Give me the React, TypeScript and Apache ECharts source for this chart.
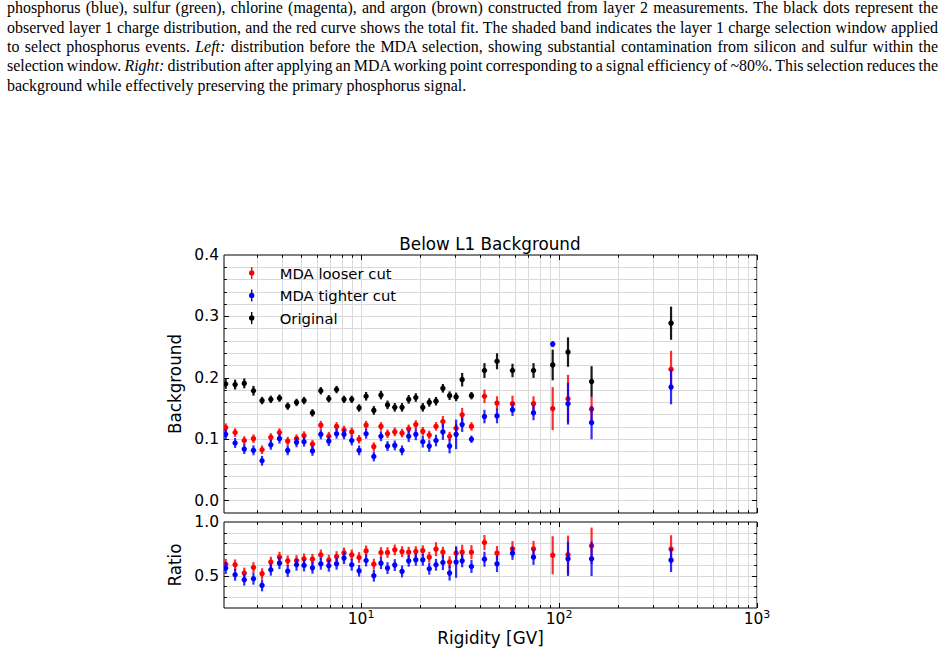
import React, { useEffect, useRef } from "react";
import * as echarts from "echarts";

// ---------------- data ----------------
const rigidity = [2.07, 2.31, 2.57, 2.86, 3.16, 3.5, 3.87, 4.26, 4.72, 5.15, 5.68, 6.26, 6.87, 7.52, 8.2, 8.97, 9.77, 10.6, 11.6, 12.6, 13.6, 14.8, 16.1, 17.4, 18.9, 20.5, 22.1, 23.9, 25.9, 28.0, 30.2, 32.4, 36.1, 42.0, 48.6, 58.2, 74.3, 92.9, 111, 146, 368];

const originalBg = [0.190, 0.189, 0.191, 0.179, 0.163, 0.165, 0.167, 0.154, 0.160, 0.163, 0.143, 0.179, 0.166, 0.181, 0.165, 0.165, 0.151, 0.170, 0.147, 0.172, 0.156, 0.152, 0.152, 0.165, 0.168, 0.152, 0.160, 0.162, 0.183, 0.171, 0.169, 0.197, 0.171, 0.212, 0.227, 0.212, 0.212, 0.221, 0.242, 0.194, 0.289];
const originalErr = [0.008, 0.008, 0.008, 0.008, 0.006, 0.006, 0.006, 0.006, 0.006, 0.006, 0.006, 0.006, 0.006, 0.006, 0.006, 0.006, 0.006, 0.007, 0.007, 0.007, 0.007, 0.007, 0.007, 0.007, 0.007, 0.007, 0.007, 0.007, 0.007, 0.007, 0.007, 0.011, 0.006, 0.012, 0.013, 0.011, 0.012, 0.025, 0.024, 0.025, 0.027];

const looserBg = [0.119, 0.111, 0.098, 0.101, 0.083, 0.103, 0.111, 0.097, 0.101, 0.106, 0.092, 0.123, 0.105, 0.121, 0.115, 0.112, 0.100, 0.123, 0.088, 0.121, 0.109, 0.112, 0.110, 0.117, 0.124, 0.113, 0.107, 0.121, 0.129, 0.105, 0.118, 0.140, 0.121, 0.170, 0.159, 0.158, 0.158, 0.150, 0.166, 0.149, 0.214];
const looserErr = [0.007, 0.007, 0.007, 0.007, 0.007, 0.007, 0.007, 0.007, 0.007, 0.007, 0.007, 0.007, 0.007, 0.007, 0.007, 0.007, 0.007, 0.007, 0.007, 0.007, 0.007, 0.007, 0.007, 0.007, 0.007, 0.007, 0.007, 0.007, 0.009, 0.007, 0.007, 0.011, 0.007, 0.011, 0.011, 0.013, 0.012, 0.035, 0.039, 0.020, 0.030];

const tighterBg = [0.108, 0.094, 0.084, 0.082, 0.065, 0.091, 0.101, 0.082, 0.095, 0.096, 0.081, 0.108, 0.097, 0.109, 0.108, 0.098, 0.082, 0.109, 0.072, 0.105, 0.089, 0.090, 0.082, 0.105, 0.108, 0.096, 0.089, 0.098, 0.112, 0.089, 0.108, 0.124, 0.100, 0.137, 0.138, 0.148, 0.143, 0.255, 0.158, 0.127, 0.185];
const tighterErr = [0.008, 0.008, 0.008, 0.008, 0.008, 0.008, 0.008, 0.008, 0.008, 0.008, 0.008, 0.008, 0.008, 0.008, 0.008, 0.008, 0.008, 0.008, 0.008, 0.008, 0.008, 0.008, 0.008, 0.0095, 0.0095, 0.0095, 0.0095, 0.0095, 0.013, 0.012, 0.024, 0.012, 0.006, 0.011, 0.012, 0.010, 0.012, 0.005, 0.034, 0.027, 0.028];

const looserRatio = [0.608, 0.602, 0.525, 0.577, 0.519, 0.627, 0.673, 0.639, 0.642, 0.657, 0.654, 0.694, 0.645, 0.679, 0.713, 0.694, 0.670, 0.731, 0.608, 0.716, 0.716, 0.741, 0.725, 0.719, 0.725, 0.734, 0.673, 0.747, 0.719, 0.627, 0.710, 0.719, 0.719, 0.809, 0.710, 0.750, 0.750, 0.691, 0.694, 0.778, 0.747];
const looserRatioErr = [0.05, 0.05, 0.05, 0.05, 0.05, 0.05, 0.05, 0.05, 0.05, 0.05, 0.05, 0.05, 0.05, 0.05, 0.05, 0.05, 0.05, 0.05, 0.05, 0.05, 0.05, 0.05, 0.05, 0.05, 0.05, 0.05, 0.05, 0.065, 0.05, 0.055, 0.06, 0.07, 0.066, 0.07, 0.066, 0.072, 0.074, 0.177, 0.18, 0.17, 0.13];

const tighterRatio = [0.571, 0.509, 0.463, 0.472, 0.410, 0.556, 0.617, 0.543, 0.602, 0.596, 0.574, 0.611, 0.593, 0.611, 0.664, 0.602, 0.546, 0.642, 0.500, 0.617, 0.571, 0.599, 0.540, 0.639, 0.648, 0.648, 0.565, 0.602, 0.623, 0.525, 0.627, 0.639, 0.586, 0.654, 0.611, 0.710, 0.673, 1.15, 0.657, 0.657, 0.645];
const tighterRatioErr = [0.055, 0.055, 0.055, 0.055, 0.055, 0.055, 0.055, 0.055, 0.055, 0.055, 0.055, 0.055, 0.055, 0.055, 0.055, 0.055, 0.055, 0.055, 0.055, 0.055, 0.055, 0.055, 0.055, 0.055, 0.055, 0.055, 0.055, 0.055, 0.07, 0.07, 0.146, 0.06, 0.06, 0.07, 0.077, 0.062, 0.072, 0.03, 0.16, 0.16, 0.11];

// ticks
const xMajorTicks = [10, 100, 1000];
const xMinorTicks = [3, 4, 5, 6, 7, 8, 9, 20, 30, 40, 50, 60, 70, 80, 90, 200, 300, 400, 500, 600, 700, 800, 900];
const bgLabels = [0, 0.1, 0.2, 0.3, 0.4];
const bgMajorTicks = [0, 0.1, 0.2, 0.3];
const bgMinorTicks = [0.02, 0.04, 0.06, 0.08, 0.12, 0.14, 0.16, 0.18, 0.22, 0.24, 0.26, 0.28, 0.32, 0.34, 0.36, 0.38];
const ratioLabels = [0.5, 1.0];
const ratioMajorTicks = [0.5];
const ratioMinorTicks = [0.3, 0.4, 0.6, 0.7, 0.8, 0.9];

const seriesNames = ["MDA looser cut", "MDA tighter cut", "Original"];
const seriesColors = ["#ff0000", "#0000ff", "#000000"];
const barColors = ["rgba(255,0,0,0.82)", "rgba(0,0,255,0.82)", "rgba(0,0,0,0.9)"];

const captionLines = [
  ["phosphorus (blue), sulfur (green), chlorine (magenta), and argon (brown) constructed from layer 2 measurements. The black dots represent the"],
  ["observed layer 1 charge distribution, and the red curve shows the total fit. The shaded band indicates the layer 1 charge selection window applied"],
  ["to select phosphorus events. ", "Left:", " distribution before the MDA selection, showing substantial contamination from silicon and sulfur within the"],
  ["selection window. ", "Right:", " distribution after applying an MDA working point corresponding to a signal efficiency of ~80%. This selection reduces the"],
  ["background while effectively preserving the primary phosphorus signal."],
];

const FONT = "DejaVu Sans";
const GRID_COLOR = "#d9d9d9";

function errorBars(name: string, color: string, barColor: string, ys: number[], es: number[], axisIndex: number) {
  return {
    type: "custom",
    name,
    xAxisIndex: axisIndex,
    yAxisIndex: axisIndex,
    clip: true,
    silent: true,
    itemStyle: { color },
    encode: { x: 0, y: [1, 2, 3] },
    data: rigidity.map((x, i) => [x, ys[i], ys[i] - es[i], ys[i] + es[i]]),
    renderItem: (params: any, api: any) => {
      const x = api.value(0);
      const p = api.coord([x, api.value(1)]);
      const lo = api.coord([x, api.value(2)]);
      const hi = api.coord([x, api.value(3)]);
      return {
        type: "group",
        children: [
          { type: "line", shape: { x1: lo[0], y1: lo[1], x2: hi[0], y2: hi[1] }, style: { stroke: barColor, lineWidth: 2.2 } },
          { type: "circle", shape: { cx: p[0], cy: p[1], r: 2.7 }, style: { fill: color } },
        ],
      };
    },
  };
}

function xAxes(gridIndex: number, showLabels: boolean) {
  const base = { type: "log", logBase: 10, gridIndex, min: 2.03, max: 1000, axisLine: { show: false, onZero: false } };
  const tick = (vals: number[], len: number) => ({ show: true, inside: true, length: len, customValues: vals, lineStyle: { color: "#000", width: 1 } });
  const split = (show: boolean) => ({ show, lineStyle: { color: GRID_COLOR, width: 1 } });
  return [
    {
      ...base, position: "bottom",
      axisTick: tick(xMajorTicks, 5),
      splitLine: split(true),
      axisLabel: {
        show: showLabels, customValues: xMajorTicks, margin: 1,
        formatter: (v: number) => `{b|10}{s|${Math.round(Math.log10(v))}}`,
        rich: {
          b: { fontFamily: FONT, fontSize: 15.5, color: "#000", lineHeight: 18, verticalAlign: "bottom" },
          s: { fontFamily: FONT, fontSize: 11, color: "#000", lineHeight: 13, verticalAlign: "top", padding: [0, 0, 8, 0] },
        },
      },
      name: showLabels ? "Rigidity [GV]" : "",
      nameLocation: "middle", nameGap: 21,
      nameTextStyle: { fontFamily: FONT, fontSize: 16.8, color: "#000" },
    },
    { ...base, position: "bottom", axisTick: tick(xMinorTicks, 2.8), splitLine: split(true), axisLabel: { show: false } },
    { ...base, position: "top", axisTick: tick(xMajorTicks, 5), splitLine: { show: false }, axisLabel: { show: false } },
    { ...base, position: "top", axisTick: tick(xMinorTicks, 2.8), splitLine: { show: false }, axisLabel: { show: false } },
  ];
}

function yAxes(gridIndex: number, min: number, max: number, labels: number[], major: number[], minor: number[], name: string) {
  const base = { type: "value", gridIndex, min, max, axisLine: { show: false, onZero: false } };
  const tick = (vals: number[], len: number) => ({ show: true, inside: true, length: len, customValues: vals, lineStyle: { color: "#000", width: 1 } });
  const split = (show: boolean) => ({ show, lineStyle: { color: GRID_COLOR, width: 1 } });
  return [
    {
      ...base, position: "left",
      axisTick: tick(major, 5),
      splitLine: split(true),
      axisLabel: {
        show: true, customValues: labels, margin: 5,
        formatter: (v: number) => v.toFixed(1),
        fontFamily: FONT, fontSize: 15.5, color: "#000",
      },
      name, nameLocation: "middle", nameGap: 26,
      nameTextStyle: { fontFamily: FONT, fontSize: 16.8, color: "#000" },
    },
    { ...base, position: "left", axisTick: tick(minor, 2.8), splitLine: split(true), axisLabel: { show: false } },
    { ...base, position: "right", axisTick: tick(major, 5), splitLine: { show: false }, axisLabel: { show: false } },
    { ...base, position: "right", axisTick: tick(minor, 2.8), splitLine: { show: false }, axisLabel: { show: false } },
  ];
}

export default function App() {
  const ref = useRef<HTMLDivElement>(null);

  useEffect(() => {
    if (!ref.current) return;
    const chart = echarts.init(ref.current, undefined, { renderer: "svg" });
    const icon = "path://M2.3,0H3.7V12H2.3Z M3,3.3A2.7,2.7 0 1 1 3,8.7A2.7,2.7 0 1 1 3,3.3Z";
    chart.setOption({
      animation: false,
      backgroundColor: "#ffffff",
      title: {
        text: "Below L1 Background",
        left: 485, top: 230, textAlign: "center",
        textStyle: { fontFamily: FONT, fontSize: 16.8, fontWeight: "normal", color: "#000" },
      },
      legend: {
        data: seriesNames,
        left: 244, top: 259.5, orient: "vertical",
        itemWidth: 6, itemHeight: 12, itemGap: 5.5,
        icon,
        selectedMode: false,
        formatter: "{t|{name}}",
        textStyle: {
          fontFamily: FONT, fontSize: 14.8, color: "#000", lineHeight: 17,
          rich: { t: { fontFamily: FONT, fontSize: 14.8, color: "#000", lineHeight: 17, padding: [0, 0, 0, 20] } },
        },
      },
      grid: [
        { left: 224, top: 255, width: 533, height: 258, show: true, borderColor: "#000", borderWidth: 1, backgroundColor: "transparent" },
        { left: 224, top: 522, width: 533, height: 86, show: true, borderColor: "#000", borderWidth: 1, backgroundColor: "transparent" },
      ],
      xAxis: [...xAxes(0, false), ...xAxes(1, true)],
      yAxis: [
        ...yAxes(0, -0.02, 0.4, bgLabels, bgMajorTicks, bgMinorTicks, "Background"),
        ...yAxes(1, 0.2, 1.0, ratioLabels, ratioMajorTicks, ratioMinorTicks, "Ratio"),
      ],
      series: [
        errorBars(seriesNames[0], seriesColors[0], barColors[0], looserBg, looserErr, 0),
        errorBars(seriesNames[1], seriesColors[1], barColors[1], tighterBg, tighterErr, 0),
        errorBars(seriesNames[2], seriesColors[2], barColors[2], originalBg, originalErr, 0),
        errorBars(seriesNames[0], seriesColors[0], barColors[0], looserRatio, looserRatioErr, 4),
        errorBars(seriesNames[1], seriesColors[1], barColors[1], tighterRatio, tighterRatioErr, 4),
      ],
    });
    return () => chart.dispose();
  }, []);

  return (
    <div style={{ position: "fixed", left: 0, top: 0, width: 945, height: 655, background: "#fff", overflow: "hidden" }}>
      <div ref={ref} style={{ position: "absolute", left: 0, top: 0, width: 945, height: 655 }} />
      <div
        style={{
          position: "absolute", left: 7, top: -1.6, width: 931,
          fontFamily: '"Liberation Serif", "Times New Roman", serif',
          fontSize: 15.95, lineHeight: "19.3px", color: "#000",
        }}
      >
        {captionLines.map((parts, i) => {
          const last = i === captionLines.length - 1;
          return (
            <div
              key={i}
              style={{
                whiteSpace: "nowrap",
                textAlign: last ? "left" : "justify",
                textAlignLast: last ? "left" : "justify",
                wordSpacing: last ? "0px" : "-2px",
                height: 19.3,
              } as any}
            >
              {parts.map((p, j) =>
                p === "Left:" || p === "Right:" ? <i key={j}>{p}</i> : <span key={j}>{p}</span>
              )}
            </div>
          );
        })}
      </div>
    </div>
  );
}
